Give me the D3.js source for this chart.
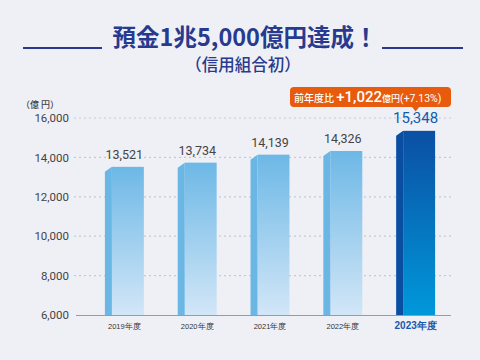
<!DOCTYPE html>
<html><head><meta charset="utf-8">
<script src="https://cdn.jsdelivr.net/npm/d3@7"></script>
<style>
html,body{margin:0;padding:0;background:#eff0f6;}
svg{display:block;font-family:"Noto Sans CJK JP","Noto Sans",sans-serif;}
</style></head><body>
<svg id="c" width="480" height="360"></svg>
<script>
const categories = ["2019年度","2020年度","2021年度","2022年度","2023年度"];
const values = [13521, 13734, 14139, 14326, 15348];
const valueLabels = ["13,521","13,734","14,139","14,326","15,348"];
const yTicks = [6000, 8000, 10000, 12000, 14000, 16000];
const title = "預金1兆5,000億円達成！";
const subtitle = "（信用組合初）";
const unitLabel = "（億 円）";
const calloutPrefix = "前年度比 ";
const calloutMain = "+1,022";
const calloutUnit = "億円";
const calloutPct = "(+7.13%)";

const svg = d3.select("#c");
const defs = svg.append("defs");
const gLight = defs.append("linearGradient").attr("id","gl").attr("x1",0).attr("x2",0).attr("y1",0).attr("y2",1);
gLight.append("stop").attr("offset","0%").attr("stop-color","#6db8e6");
gLight.append("stop").attr("offset","100%").attr("stop-color","#d2e6f7");
const gDark = defs.append("linearGradient").attr("id","gd").attr("x1",0).attr("x2",0).attr("y1",0).attr("y2",1);
gDark.append("stop").attr("offset","0%").attr("stop-color","#0b4fa3");
gDark.append("stop").attr("offset","100%").attr("stop-color","#0098da");

// Title
svg.append("text").attr("x",245).attr("y",45.5).attr("text-anchor","middle")
  .attr("font-size",23.5).attr("font-weight","bold").attr("fill","#273a8e").text(title);
svg.append("line").attr("x1",23).attr("x2",102).attr("y1",48).attr("y2",48).attr("stroke","#273a8e").attr("stroke-width",2);
svg.append("line").attr("x1",382).attr("x2",463).attr("y1",48).attr("y2",48).attr("stroke","#273a8e").attr("stroke-width",2);
svg.append("text").attr("x",243).attr("y",71).attr("text-anchor","middle")
  .attr("font-size",16.5).attr("font-weight",500).attr("fill","#273a8e").text(subtitle);

const y = d3.scaleLinear().domain([6000,16000]).range([315,118]);
const x = d3.scaleBand().domain(categories).range([88,452]).paddingInner(0.465).paddingOuter(0.232);

// gridlines
svg.append("g").selectAll("line").data(yTicks.slice(1)).join("line")
  .attr("x1",74).attr("x2",452).attr("y1",d=>y(d)).attr("y2",d=>y(d))
  .attr("stroke","#c8c9cf").attr("stroke-width",1.2).attr("stroke-dasharray","2,3");

// y axis labels
const yAxis = d3.axisLeft(y).tickValues(yTicks).tickFormat(d3.format(",")).tickSize(0).tickPadding(0);
const ya = svg.append("g").attr("transform","translate(69,0)").call(yAxis);
ya.select(".domain").remove();
ya.selectAll("text").attr("font-size",11.5).attr("fill","#444").attr("font-family","Roboto,'Noto Sans',sans-serif");

svg.append("text").attr("x",40).attr("y",108).attr("text-anchor","middle").attr("font-size",9).attr("fill","#444").attr("font-weight",500).text(unitLabel);

// bars
const side = 7, bevel = 5;
const bars = svg.append("g").selectAll("g").data(values).join("g");
bars.each(function(v,i){
  const g = d3.select(this);
  const x0 = x(categories[i]), w = x.bandwidth(), top = y(v), base = y(6000);
  const last = i === values.length-1;
  g.append("rect").attr("x",x0+side).attr("y",top).attr("width",w-side).attr("height",base-top)
    .attr("fill", last ? "url(#gd)" : "url(#gl)");
  g.append("path").attr("d",`M${x0},${base}L${x0},${top+bevel}L${x0+side},${top}L${x0+side},${base}Z`)
    .attr("fill", last ? "#0a4ea2" : "#6ab6e4");
  g.append("text").attr("x",x0+w/2).attr("y",top-8).attr("text-anchor","middle")
    .attr("font-size", last?15:12.5).attr("font-family","Roboto,'Noto Sans',sans-serif")
    .attr("fill", last ? "#0f5bb0" : "#444").text(valueLabels[i]);
});

// x axis
const xa = svg.append("g").attr("transform","translate(0,315)").call(d3.axisBottom(x).tickSize(0).tickPadding(6));
xa.select(".domain").remove();
svg.append("line").attr("x1",76).attr("x2",451).attr("y1",315.5).attr("y2",315.5).attr("stroke","#9a9ba0").attr("stroke-width",1);
xa.selectAll("text").attr("font-size",d=>d===categories[4]?10:7.5)
  .attr("font-weight",d=>d===categories[4]?"bold":"normal")
  .attr("fill",d=>d===categories[4]?"#1957ac":"#333")
  .attr("dy",d=>d===categories[4]?"0.75em":"1em");

// callout
const cx = x(categories[4]) + x.bandwidth()/2;
const cg = svg.append("g");
cg.append("rect").attr("x",290).attr("y",87).attr("width",161).attr("height",20).attr("rx",4).attr("fill","#e85a0c");
cg.append("path").attr("d",`M${cx-4},106.5L${cx+4},106.5L${cx},111.5Z`).attr("fill","#e85a0c");
const ct = cg.append("text").attr("x",294).attr("y",102).attr("text-anchor","start").attr("fill","#fff");
ct.append("tspan").attr("font-size",10).attr("font-weight",500).text(calloutPrefix);
ct.append("tspan").attr("font-size",15).attr("font-weight",500).attr("font-family","Roboto,'Noto Sans',sans-serif").text(calloutMain);
ct.append("tspan").attr("font-size",9).attr("font-weight",500).text(calloutUnit);
ct.append("tspan").attr("font-size",10.5).attr("font-family","Roboto,'Noto Sans',sans-serif").text(calloutPct);
</script>
</body></html>
